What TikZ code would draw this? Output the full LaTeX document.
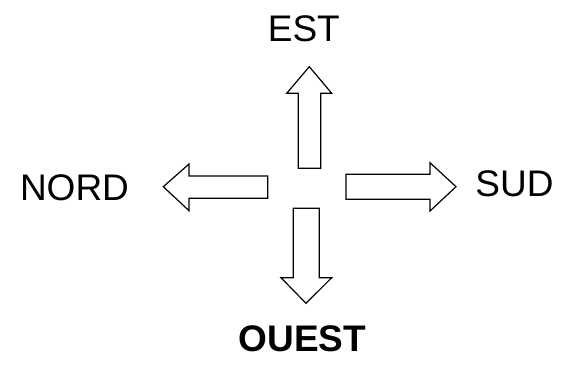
\documentclass[tikz,border=0pt]{standalone}
\usepackage{fontspec}
\setmainfont{Liberation Sans}
\begin{document}
\begin{tikzpicture}[x=1pt,y=-1pt,
  arr/.style={draw=black,line width=1.2pt,fill=white,line join=miter},
  lbl/.style={inner sep=0pt,font=\fontsize{37}{44}\selectfont}]
\useasboundingbox (0,0) rectangle (562,366);
% up arrow
\draw[arr] (298.3,168.3) -- (298.3,93.3) -- (286.7,93.3) -- (309.3,66.7) -- (331.7,93.3) -- (320.7,93.3) -- (320.7,168.3) -- cycle;
% left arrow
\draw[arr] (267.7,176) -- (189,176) -- (189,164) -- (163.3,186.7) -- (189,210.7) -- (189,198.3) -- (267.7,198.3) -- cycle;
% right arrow
\draw[arr] (346,174.3) -- (430,174.3) -- (430,162.7) -- (456,186.7) -- (430,211) -- (430,199.3) -- (346,199.3) -- cycle;
% down arrow
\draw[arr] (293.3,208.3) -- (293.3,277.7) -- (281,277.7) -- (306,303.3) -- (331.7,277.7) -- (319.3,277.7) -- (319.3,208.3) -- cycle;
\node[lbl] (est) at (303.8,28.3) {EST};
\node[lbl] (nord) at (74.5,187.3) {NORD};
\node[lbl] (sud) at (514.5,183.3) {SUD};
\node[lbl,font=\fontsize{37}{44}\selectfont\bfseries] (ouest) at (302.5,338.7) {OUEST};
\end{tikzpicture}
\end{document}
